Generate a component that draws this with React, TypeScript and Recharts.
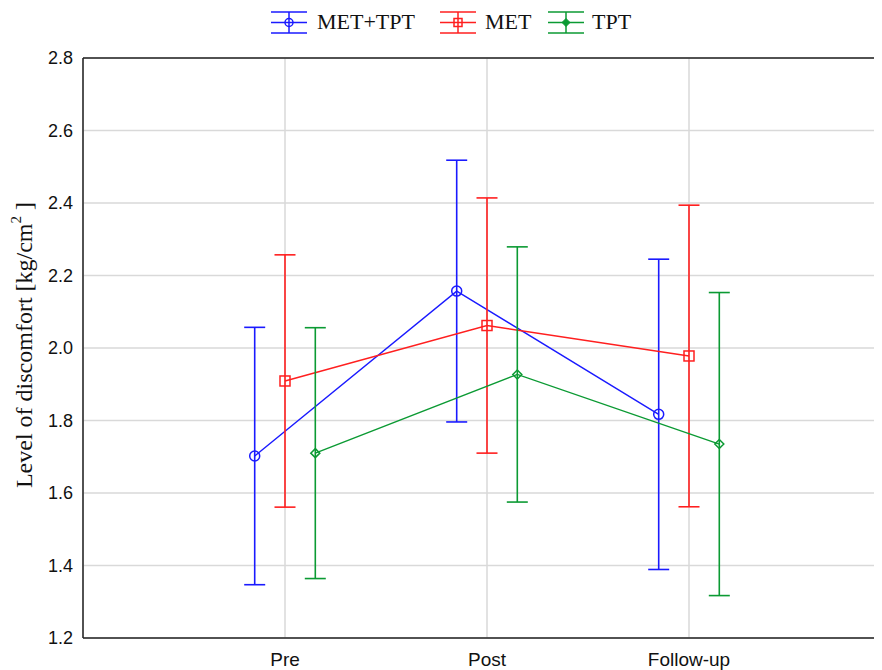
import React from 'react';
import {
  ComposedChart,
  Line,
  XAxis,
  YAxis,
  CartesianGrid,
  ErrorBar,
  Legend,
  ReferenceLine,
} from 'recharts';

// ---------- data ----------
const categories = ['Pre', 'Post', 'Follow-up'];
const seriesNames = ['MET+TPT', 'MET', 'TPT'];
const metTptMeans = [1.702, 2.157, 1.817];
const metTptErrors = [0.355, 0.361, 0.428];
const metMeans = [1.909, 2.062, 1.978];
const metErrors = [0.348, 0.352, 0.416];
const tptMeans = [1.71, 1.927, 1.735];
const tptErrors = [0.346, 0.352, 0.418];
const yTicks = [1.2, 1.4, 1.6, 1.8, 2.0, 2.2, 2.4, 2.6, 2.8];
const xTicks = [1, 2, 3];

// ---------- style ----------
const colors = ['#1a1aff', '#ff1f1f', '#0b9a33'];
const dodge = [-0.15, 0, 0.15];
const markers = ['circle', 'square', 'diamond'];

const buildSeries = (means: number[], errs: number[], s: number) =>
  categories.map((c, i) => ({ x: i + 1 + dodge[s], y: means[i], e: errs[i], cat: c }));

const seriesData = [
  buildSeries(metTptMeans, metTptErrors, 0),
  buildSeries(metMeans, metErrors, 1),
  buildSeries(tptMeans, tptErrors, 2),
];

const Marker = ({ kind, cx, cy, color }: any) => {
  if (kind === 'circle')
    return <circle cx={cx} cy={cy} r={5} fill="none" stroke={color} strokeWidth={1.5} />;
  if (kind === 'square')
    return <rect x={cx - 5} y={cy - 5} width={10} height={10} fill="none" stroke={color} strokeWidth={1.5} />;
  return (
    <path
      d={`M${cx},${cy - 4.5} L${cx + 4.5},${cy} L${cx},${cy + 4.5} L${cx - 4.5},${cy} Z`}
      fill="none"
      stroke={color}
      strokeWidth={1.5}
    />
  );
};

const LegendSymbol = ({ color, kind }: any) => (
  <svg width={36} height={24} style={{ display: 'block' }}>
    <line x1={0} x2={36} y1={1} y2={1} stroke={color} strokeWidth={1.5} />
    <line x1={0} x2={36} y1={11.5} y2={11.5} stroke={color} strokeWidth={1.5} />
    <line x1={0} x2={36} y1={22} y2={22} stroke={color} strokeWidth={1.5} />
    <line x1={18} x2={18} y1={1} y2={22} stroke={color} strokeWidth={1.5} />
    {kind === 'circle' && <circle cx={18} cy={11.5} r={4} fill="none" stroke={color} strokeWidth={1.5} />}
    {kind === 'square' && <rect x={14} y={7.5} width={8} height={8} fill="none" stroke={color} strokeWidth={1.5} />}
    {kind === 'diamond' && (
      <path d="M18,7.5 L22,11.5 L18,15.5 L14,11.5 Z" fill={color} stroke={color} strokeWidth={1} />
    )}
  </svg>
);

const legendSymbolLeft = [263, 432, 540];
const legendTextLeft = [309, 477, 584];

const LegendContent = () => (
  <div style={{ position: 'relative', width: 874, height: 44 }}>
    {seriesNames.map((n, i) => (
      <React.Fragment key={n}>
        <div style={{ position: 'absolute', left: legendSymbolLeft[i], top: 3 }}>
          <LegendSymbol color={colors[i]} kind={markers[i]} />
        </div>
        <span
          style={{
            position: 'absolute',
            left: legendTextLeft[i],
            top: 3,
            fontFamily: '"Liberation Serif", "Times New Roman", serif',
            fontSize: 22,
            lineHeight: '22px',
            color: '#111',
            whiteSpace: 'nowrap',
          }}
        >
          {n}
        </span>
      </React.Fragment>
    ))}
  </div>
);

const YLabel = (props: any) => {
  const vb = props.viewBox || {};
  const cy = (vb.y ?? 50) + (vb.height ?? 580) / 2 - 3;
  const cx = 16;
  return (
    <text
      x={cx}
      y={cy}
      transform={`rotate(-90, ${cx}, ${cy})`}
      textAnchor="middle"
      dominantBaseline="central"
      fontFamily='"Liberation Serif", "Times New Roman", serif'
      fontSize={24}
      fill="#111"
    >
      Level of discomfort [kg/cm
      <tspan baselineShift="super" fontSize={15}>2</tspan>
      <tspan> ]</tspan>
    </text>
  );
};

export default function App() {
  return (
    <div style={{ width: 874, height: 662, overflow: 'hidden' }}>
      <ComposedChart
        width={883}
        height={662}
        margin={{ top: 50, right: 0, bottom: 0, left: 0 }}
      >
        <CartesianGrid stroke="#d9d9d9" strokeWidth={1.5} />
        <XAxis
          type="number"
          dataKey="x"
          domain={[0, 4]}
          ticks={xTicks}
          tickFormatter={(v: number) => categories[v - 1] ?? ''}
          allowDataOverflow
          height={32}
          axisLine={{ stroke: '#222', strokeWidth: 1.5 }}
          tickLine={false}
          tickSize={0}
          tickMargin={15}
          tick={{ fontFamily: '"Liberation Sans", Arial, sans-serif', fontSize: 19, fill: '#111' }}
        />
        <YAxis
          type="number"
          domain={[1.2, 2.8]}
          ticks={yTicks}
          tickFormatter={(v: number) => v.toFixed(1)}
          width={75}
          axisLine={{ stroke: '#222', strokeWidth: 1.5 }}
          tickLine={false}
          tickSize={0}
          tickMargin={10}
          tick={{ fontFamily: '"Liberation Sans", Arial, sans-serif', fontSize: 18, fill: '#111' }}
          label={<YLabel />}
        />
        <ReferenceLine y={2.8} stroke="#222" strokeWidth={1.5} />
        <Legend
          layout="horizontal"
          verticalAlign="middle"
          align="center"
          wrapperStyle={{ top: 0, left: 0, width: 874, height: 44 }}
          content={<LegendContent />}
        />
        {seriesData.map((d, s) => (
          <Line
            key={seriesNames[s]}
            name={seriesNames[s]}
            data={d}
            dataKey="y"
            type="linear"
            stroke={colors[s]}
            strokeWidth={1.4}
            isAnimationActive={false}
            dot={(p: any) => (
              <Marker key={`m-${s}-${p.index}`} kind={markers[s]} cx={p.cx} cy={p.cy} color={colors[s]} />
            )}
            activeDot={false}
          >
            <ErrorBar dataKey="e" direction="y" width={10.5} stroke={colors[s]} strokeWidth={1.6} isAnimationActive={false} />
          </Line>
        ))}
      </ComposedChart>
    </div>
  );
}
